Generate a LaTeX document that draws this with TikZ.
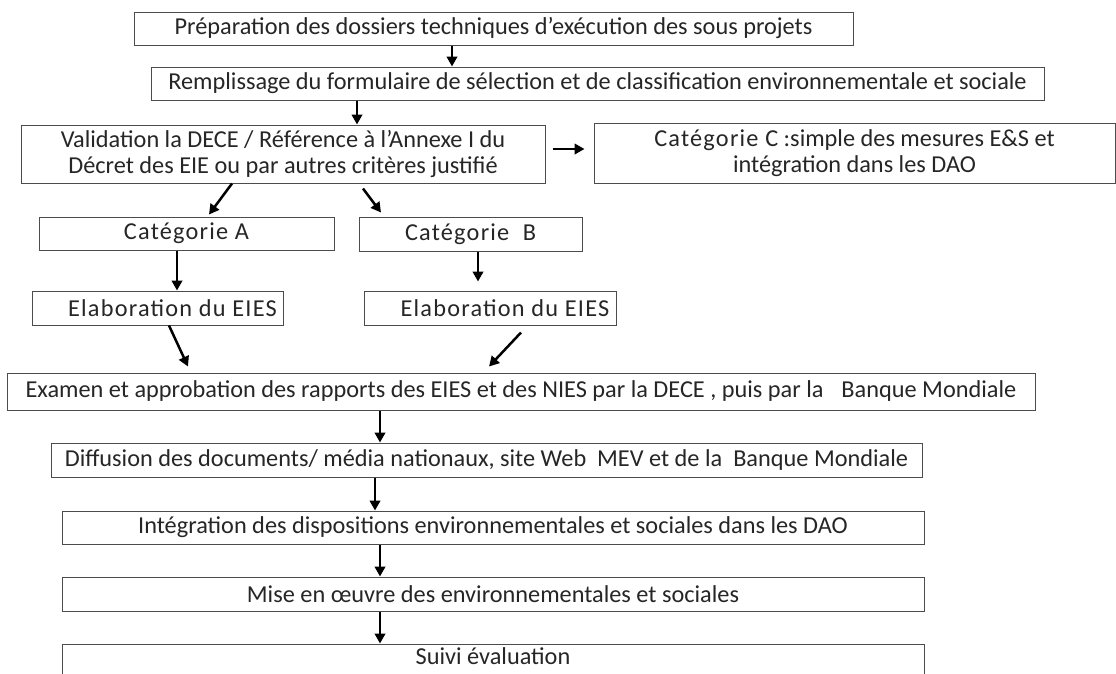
\documentclass[tikz,border=0pt]{standalone}
\usepackage{fontspec}
\setmainfont{Carlito}
\newfontfamily\spacedfont[LetterSpace=5]{Carlito}
\usetikzlibrary{arrows.meta}
\begin{document}
\begin{tikzpicture}[x=1pt,y=-1pt,
  box/.style={draw=black!70,line width=1pt,rectangle,inner sep=0pt,align=center,
    font=\fontsize{24.3}{26.5}\selectfont,text=black!85},
  sbox/.style={box,font=\spacedfont\fontsize{24.3}{26.5}\selectfont},
  arr/.style={line width=2.5pt,-{Triangle[length=10pt,width=10.5pt]}}]
\useasboundingbox[fill=white] (0,0) rectangle (1116,673);
\node[box,minimum width=719pt,minimum height=33pt] (p1) at (493.5,28.5)
  {Préparation des dossiers techniques d’exécution des sous projets};
\node[box,minimum width=893pt,minimum height=33pt] (p2) at (597.5,83.5)
  {Remplissage du formulaire de sélection et de classification environnementale et sociale};
\node[box,minimum width=524pt,minimum height=58pt] (val) at (283,154)
  {Validation la DECE / Référence à l’Annexe I du\\Décret des EIE ou par autres critères justifié};
\node[box,minimum width=521pt,minimum height=60pt] (catC) at (854.5,153)
  {{\spacedfont Catégorie C} :simple des mesures E\&S et\\intégration dans les DAO};
\node[sbox,minimum width=295pt,minimum height=33pt] (catA) at (186.5,233.5) {Catégorie A};
\node[sbox,minimum width=223pt,minimum height=34pt] (catB) at (470.5,234) {Catégorie\ \ B};
\node[sbox,minimum width=251pt,minimum height=34pt] (elabA) at (157.5,308) {\hspace{30pt}Elaboration du EIES};
\node[sbox,minimum width=252pt,minimum height=34pt] (elabB) at (490,308) {\hspace{30pt}Elaboration du EIES};
\node[box,minimum width=1028pt,minimum height=37pt] (exam) at (521,391.5)
  {Examen et approbation des rapports des EIES et des NIES par la DECE , puis par la\hspace{18pt}Banque Mondiale};
\node[box,minimum width=871pt,minimum height=34pt] (diff) at (486.5,460)
  {Diffusion des documents/ média nationaux, site Web\ \ MEV et de la\ \ Banque Mondiale};
\node[box,minimum width=862pt,minimum height=33pt] (integ) at (493,527.5)
  {Intégration des dispositions environnementales et sociales dans les DAO};
\node[box,minimum width=862pt,minimum height=34pt] (mise) at (493,594)
  {Mise en œuvre des environnementales et sociales};
\node[box,minimum width=862pt,minimum height=34pt] (suivi) at (493,661)
  {\raisebox{9pt}{Suivi évaluation}};
% connectors
\draw[arr] ([xshift=-41.5pt]p1.south) -- ([xshift=-41.5pt]p1.south |- p2.north);
\draw[arr] ([xshift=-240.5pt]p2.south) -- ([xshift=-240.5pt]p2.south |- val.north);
\draw[arr] ([xshift=7pt,yshift=5pt]val.east) -- ([xshift=-9pt,yshift=5pt]catC.west |- val.east);
\draw[arr] ([xshift=-51pt]val.south) -- ([xshift=22.5pt,yshift=2pt]catA.north);
\draw[arr] ([xshift=80pt,yshift=-5pt]val.south) -- ([xshift=-89.5pt,yshift=4pt]catB.north);
\draw[arr] ([xshift=-9.5pt]catA.south) -- ([xshift=-9.5pt]catA.south |- elabA.north);
\draw[arr] ([xshift=7.5pt]catB.south) -- ([xshift=7.5pt,yshift=9pt]catB.south |- elabB.north);
\draw[arr] ([xshift=11.5pt]elabA.south) -- ([xshift=-333pt,yshift=6pt]exam.north);
\draw[arr] ([xshift=31pt,yshift=-7pt]elabB.south) -- ([xshift=-32pt,yshift=6pt]exam.north);
\draw[arr] ([xshift=-141pt]exam.south) -- ([xshift=-141pt]exam.south |- diff.north);
\draw[arr] ([xshift=-111.5pt]diff.south) -- ([xshift=-111.5pt]diff.south |- integ.north);
\draw[arr] ([xshift=-113pt]integ.south) -- ([xshift=-113pt]integ.south |- mise.north);
\draw[arr] ([xshift=-113pt]mise.south) -- ([xshift=-113pt]mise.south |- suivi.north);
\end{tikzpicture}
\end{document}
